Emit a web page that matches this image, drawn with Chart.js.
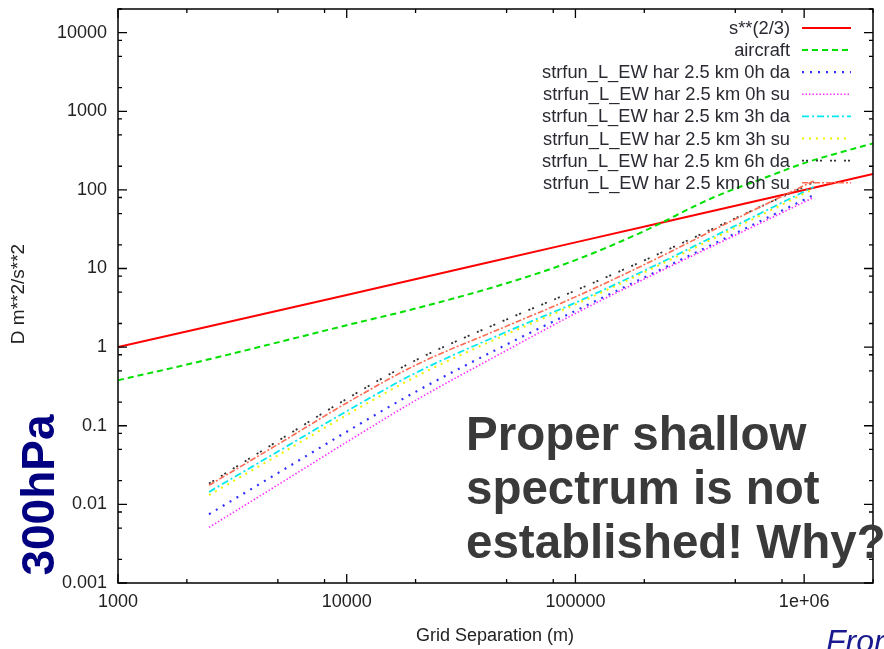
<!DOCTYPE html>
<html>
<head>
<meta charset="utf-8">
<script src="https://cdn.jsdelivr.net/npm/chart.js@4.4.1/dist/chart.umd.min.js"></script>
<style>
  body { margin: 0; background: #fff; }
  canvas { display: block; }
</style>
</head>
<body>
<canvas id="chartCanvas" width="884" height="649"></canvas>
<script>
// axis ticks
const xTickValues = [1000, 10000, 100000, 1000000];
const xTickLabels = ["1000", "10000", "100000", "1e+06"];
const yTickValues = [0.001, 0.01, 0.1, 1, 10, 100, 1000, 10000];
const yTickLabels = ["0.001", "0.01", "0.1", "1", "10", "100", "1000", "10000"];

// s**(2/3) reference line
const powerSep = [1000, 10000, 100000, 1000000, 2000000];
const powerD = [1, 4.6, 21.5, 100, 160];

// aircraft
const aircraftSep = [1000, 2000, 5000, 10000, 20000, 50000, 100000, 200000, 400000, 700000, 1000000, 1500000, 2000000];
const aircraftD = [0.38, 0.6, 1.15, 1.9, 3.1, 6.5, 12.8, 30, 80, 149, 219, 310, 390];

// model structure functions
const modelSep = [2500, 5000, 10000, 20000, 50000, 100000, 200000, 500000, 1100000];
const ew0hDa = [0.0075, 0.025, 0.084, 0.27, 1.08, 2.9, 7.7, 28, 86];
const ew0hSu = [0.0051, 0.0177, 0.062, 0.21, 0.91, 2.68, 7.35, 26.5, 80];
const ew3hDa = [0.0144, 0.047, 0.153, 0.47, 1.57, 3.68, 9.4, 35, 109];
const ew3hSu = [0.0131, 0.042, 0.137, 0.42, 1.46, 3.5, 8.95, 33, 103];
const ew6hDa = [0.0184, 0.064, 0.22, 0.68, 2.25, 5.25, 12.7, 43.5, 125];
const ew6hSu = [0.0175, 0.058, 0.195, 0.59, 1.85, 4.36, 11.2, 42.5, 130];

const seriesNames = [
    "s**(2/3)",
    "aircraft",
    "strfun_L_EW har 2.5 km 0h da",
    "strfun_L_EW har 2.5 km 0h su",
    "strfun_L_EW har 2.5 km 3h da",
    "strfun_L_EW har 2.5 km 3h su",
    "strfun_L_EW har 2.5 km 6h da",
    "strfun_L_EW har 2.5 km 6h su"
];

function pairs(xs, ys) {
    return xs.map((x, i) => ({ x: x, y: ys[i] }));
}

function makeSet(i, xs, ys, color, dash, width) {
    return {
        label: seriesNames[i],
        data: pairs(xs, ys),
        borderColor: color,
        borderDash: dash,
        borderWidth: width,
        pointRadius: 0,
        cubicInterpolationMode: "monotone",
        fill: false,
        order: 10 - i
    };
}

const FONT = "'Liberation Sans', Arial, sans-serif";

const gnuplotFrame = {
    id: "gnuplotFrame",
    afterDatasetsDraw(chart) {
        const ctx = chart.ctx;
        const a = chart.chartArea;
        const xs = chart.scales.x;
        const ys = chart.scales.y;
        ctx.save();
        ctx.strokeStyle = "#000";
        ctx.lineWidth = 1.5;
        ctx.setLineDash([]);
        ctx.strokeRect(a.left, a.top, a.right - a.left, a.bottom - a.top);

        // gnuplot style inward ticks on all four sides
        ctx.lineWidth = 1.3;
        ctx.beginPath();
        xTickValues.forEach(d => {
            [1, 2, 5, 8].forEach(m => {
                const v = d * m;
                if (v > xs.max) return;
                const px = xs.getPixelForValue(v);
                const len = m === 1 ? 9 : 4;
                ctx.moveTo(px, a.bottom); ctx.lineTo(px, a.bottom - len);
                ctx.moveTo(px, a.top); ctx.lineTo(px, a.top + len);
            });
        });
        yTickValues.forEach(d => {
            [1, 2, 5, 8].forEach(m => {
                const v = d * m;
                if (v > ys.max) return;
                const py = ys.getPixelForValue(v);
                const len = m === 1 ? 9 : 4;
                ctx.moveTo(a.left, py); ctx.lineTo(a.left + len, py);
                ctx.moveTo(a.right, py); ctx.lineTo(a.right - len, py);
            });
        });
        ctx.stroke();
        ctx.restore();
    },
    afterDraw(chart) {
        const ctx = chart.ctx;
        ctx.save();

        // legend inside the plot, top right
        ctx.font = "18.3px " + FONT;
        ctx.textAlign = "right";
        ctx.textBaseline = "middle";
        chart.data.datasets.forEach((ds, i) => {
            const y = 28 + i * 22.1;
            ctx.fillStyle = "#2a2a33";
            ctx.fillText(ds.label, 790, y + 1);
            ctx.strokeStyle = ds.borderColor;
            ctx.lineWidth = ds.borderWidth;
            ctx.setLineDash(ds.borderDash || []);
            ctx.beginPath();
            ctx.moveTo(802, y);
            ctx.lineTo(851, y);
            ctx.stroke();
        });
        ctx.setLineDash([]);

        // axis titles
        ctx.fillStyle = "#222";
        ctx.font = "18px " + FONT;
        ctx.textAlign = "center";
        ctx.textBaseline = "middle";
        ctx.fillText("Grid Separation (m)", 495, 636);
        ctx.save();
        ctx.translate(19, 294);
        ctx.rotate(-Math.PI / 2);
        ctx.font = "19px " + FONT;
        ctx.fillText("D m**2/s**2", 0, 0);
        ctx.restore();

        // slide annotations
        ctx.save();
        ctx.translate(41, 495);
        ctx.rotate(-Math.PI / 2);
        ctx.fillStyle = "#000080";
        ctx.font = "bold 46px " + FONT;
        ctx.textAlign = "center";
        ctx.fillText("300hPa", 0, 0);
        ctx.restore();

        ctx.fillStyle = "#3a3a3a";
        ctx.font = "bold 47.5px " + FONT;
        ctx.textAlign = "left";
        ctx.textBaseline = "alphabetic";
        ctx.fillText("Proper shallow", 466, 450);
        ctx.fillText("spectrum is not", 466, 504);
        ctx.fillText("established! Why?", 466, 558);

        ctx.fillStyle = "#1a1a90";
        ctx.font = "italic 32px " + FONT;
        ctx.fillText("From", 826, 652);
        ctx.restore();
    }
};

const ctx = document.getElementById("chartCanvas").getContext("2d");
const myChart = new Chart(ctx, {
    type: "line",
    data: {
        datasets: [
            makeSet(0, powerSep, powerD, "#ff0000", [], 2),
            makeSet(1, aircraftSep, aircraftD, "#00e000", [6, 4], 2),
            makeSet(2, modelSep, ew0hDa, "#3030ff", [2, 6], 2.2),
            makeSet(3, modelSep, ew0hSu, "#ff30ff", [1.5, 2], 1.6),
            makeSet(4, modelSep, ew3hDa, "#00e8f0", [7, 3, 2, 3], 1.8),
            makeSet(5, modelSep, ew3hSu, "#f0f000", [2, 5], 2),
            makeSet(6, modelSep, ew6hDa, "#303030", [2, 2, 2, 8], 1.8),
            makeSet(7, modelSep, ew6hSu, "#ff6a50", [6, 2, 2, 2], 1.6)
        ]
    },
    options: {
        responsive: false,
        animation: false,
        devicePixelRatio: 1,
        layout: { padding: { left: 0, right: 11, top: 9, bottom: 0 } },
        plugins: {
            legend: { display: false },
            tooltip: { enabled: false }
        },
        scales: {
            x: {
                type: "logarithmic",
                min: 1000,
                max: 2000000,
                grid: { display: false, drawTicks: false },
                border: { display: false },
                afterBuildTicks: scale => {
                    scale.ticks = xTickValues.map(v => ({ value: v }));
                },
                afterFit: scale => {
                    scale.height = 66;
                    scale.paddingLeft = 0;
                    scale.paddingRight = 0;
                },
                ticks: {
                    autoSkip: false,
                    maxRotation: 0,
                    padding: 8,
                    color: "#222",
                    font: { family: FONT, size: 18 },
                    callback: (value) => {
                        const i = xTickValues.indexOf(value);
                        return i >= 0 ? xTickLabels[i] : "";
                    }
                }
            },
            y: {
                type: "logarithmic",
                min: 0.001,
                max: 20000,
                grid: { display: false, drawTicks: false },
                border: { display: false },
                afterBuildTicks: scale => {
                    scale.ticks = yTickValues.map(v => ({ value: v }));
                },
                afterFit: scale => {
                    scale.width = 118;
                    scale.paddingTop = 0;
                    scale.paddingBottom = 0;
                },
                ticks: {
                    autoSkip: false,
                    padding: 11,
                    color: "#222",
                    font: { family: FONT, size: 18 },
                    callback: (value) => {
                        const i = yTickValues.findIndex(v => Math.abs(v - value) / v < 1e-6);
                        return i >= 0 ? yTickLabels[i] : "";
                    }
                }
            }
        }
    },
    plugins: [gnuplotFrame]
});
</script>
</body>
</html>
